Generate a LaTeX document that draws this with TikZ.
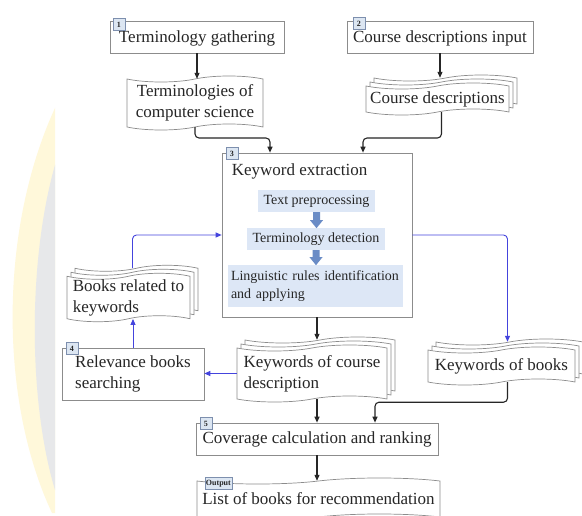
\documentclass[tikz,border=0pt]{standalone}
\usepackage{fontspec}
\setmainfont{Liberation Serif}
\usetikzlibrary{shapes.symbols,shadows,arrows.meta}

\definecolor{edge}{HTML}{8C8C8C}
\definecolor{ink}{HTML}{262626}
\definecolor{flow}{HTML}{4444DD}
\definecolor{badgefill}{HTML}{DCE6F2}
\definecolor{badgeedge}{HTML}{7D8FAE}
\definecolor{stepfill}{HTML}{DDE7F6}
\definecolor{stepdart}{HTML}{6A8CC6}
\definecolor{cream}{HTML}{FFF8DA}
\definecolor{mist}{HTML}{E7E8EA}

\tikzset{
  mainfont/.style={font=\fontsize{17}{21}\selectfont},
  procbox/.style={draw=edge, line width=0.7pt, fill=white, text=ink, mainfont, inner sep=0pt},
  tapebox/.style={tape, draw=edge, line width=0.7pt, fill=white, text=ink, mainfont,
    inner sep=0pt, tape bend top=in and out, tape bend bottom=in and out, tape bend height=6pt},
  stackbox/.style={tapebox, double copy shadow={shadow xshift=4pt, shadow yshift=4pt,
    draw=edge, fill=white, line width=0.7pt}},
  badge/.style={draw=badgeedge, fill=badgefill, text=ink, line width=0.6pt,
    font=\bfseries\fontsize{8}{8}\selectfont, inner sep=1pt, minimum size=12pt},
  stepbox/.style={fill=stepfill, text=ink, font=\fontsize{14}{18}\selectfont, inner sep=0pt},
  link/.style={draw=ink, line width=1.1pt, rounded corners=4pt, -{Triangle[length=6pt,width=5pt]}},
  bluelink/.style={draw=flow, line width=0.9pt, rounded corners=4pt, -{Triangle[length=6pt,width=5pt]}},
}

\begin{document}
\begin{tikzpicture}[x=1pt,y=-1pt]
  \clip (0,0) rectangle (582,516);
  \fill[white] (0,0) rectangle (582,516);

  % crescent backdrop on the left
  \fill[cream] (55,108) .. controls (-1,230) and (-1,400) .. (52,513) -- (55,513) -- cycle;
  \fill[mist] (55,165) .. controls (28,260) and (28,400) .. (55,490) -- cycle;

  % steps 1 and 2
  \node[procbox, minimum width=174pt, minimum height=32pt, text height=14pt, text depth=2pt] (b1) at (197,37) {Terminology gathering};
  \node[badge, anchor=west] (k1) at ([xshift=3pt,yshift=-4pt]b1.north west) {1};
  \node[procbox, minimum width=186pt, minimum height=32pt, text height=14pt, text depth=2pt] (b2) at (440,37) {Course descriptions input};
  \node[badge, anchor=west] (k2) at ([xshift=6pt,yshift=-3pt]b2.north west) {2};

  % inputs to the extraction step
  \node[tapebox, minimum width=136pt, minimum height=54pt, align=center] (d1) at (195,103)
    {Terminologies of\\computer science};
  \node[stackbox, minimum width=143pt, minimum height=32pt] (d2) at (437.5,99) {Course descriptions};

  % step 3: keyword extraction
  \node[procbox, minimum width=190pt, minimum height=164pt] (b3) at (317,235) {};
  \node[badge, anchor=west] (k3) at ([xshift=4pt,yshift=-1pt]b3.north west) {3};
  \node[mainfont, text=ink, anchor=west, inner sep=0pt] (kx) at ([xshift=10pt,yshift=-19pt]b3.north west)
    {Keyword extraction};
  \node[stepbox, minimum width=117pt, minimum height=22pt] (s1) at (316.5,201) {Text preprocessing};
  \node[stepbox, minimum width=138pt, minimum height=22pt] (s2) at (316,239) {Terminology detection};
  \node[stepbox, minimum width=175pt, minimum height=42pt, text width=169pt, align=left] (s3) at (315.5,286)
    {Linguistic rules identification\\and applying};
  \fill[stepdart] (s1.south) ++(-3.5,0) -- ++(7,0) -- ++(0,8) -- ++(3,0) -- ++(-6.5,8) -- ++(-6.5,-8) -- ++(3,0) -- cycle;
  \fill[stepdart] (s2.south) ++(-3.5,0) -- ++(7,0) -- ++(0,7) -- ++(3,0) -- ++(-6.5,8) -- ++(-6.5,-8) -- ++(3,0) -- cycle;

  % step 4 and its result
  \node[stackbox, minimum width=123pt, minimum height=45pt, align=left] (d4) at (128.5,297.5)
    {Books related to\\keywords};
  \node[procbox, minimum width=142pt, minimum height=52pt, align=left] (b4) at (133,374)
    {Relevance books\\searching};
  \node[badge, anchor=west] (k4) at ([xshift=4pt,yshift=-1pt]b4.north west) {4};

  % extracted keywords
  \node[stackbox, minimum width=150pt, minimum height=57pt, align=left] (d5) at (312,373.5)
    {Keywords of course\\description};
  \node[stackbox, minimum width=147pt, minimum height=38pt] (d6) at (501.5,366) {Keywords of books};

  % step 5 and the output
  \node[procbox, minimum width=242pt, minimum height=32pt] (b5) at (317,439) {Coverage calculation and ranking};
  \node[badge, anchor=west] (k5) at ([xshift=4pt,yshift=-1pt]b5.north west) {5};
  \node[tapebox, minimum width=243pt, minimum height=42pt] (out) at (318.5,499) {List of books for recommendation};
  \node[badge, anchor=west] (ko) at ([xshift=8pt,yshift=-3pt]out.north west) {Output};

  % connectors
  \coordinate (j1) at (0,138);
  \draw[link] (b1.south) -- (b1.south |- d1.north);
  \draw[link] (b2.south) -- ([yshift=8pt]b2.south |- d2.north);
  \draw[link] (d1.south) -- (d1.south |- j1) -| ([xshift=-47pt]b3.north);
  \draw[link] ([xshift=4pt]d2.south) -- ([xshift=4pt]d2.south |- j1) -| ([xshift=46pt]b3.north);
  \draw[link] (b3.south) -- ([yshift=8pt]b3.south |- d5.north);
  \draw[link] (b3.south |- d5.south) -- (b3.south |- b5.north);
  \draw[link] ([xshift=6pt]d6.south) -- ++(0,20) -| ([xshift=58pt]b5.north);
  \draw[link] (b5.south) -- (b5.south |- out.north);

  \draw[bluelink] (b3.east) -| ([xshift=6pt,yshift=8pt]d6.north);
  \draw[bluelink] ([xshift=4pt,yshift=8pt]d4.north) |- (b3.west);
  \draw[bluelink] (b4.north) -- (b4.north |- d4.south);
  \draw[bluelink] (d5.west) -- (d5.west -| b4.east);
\end{tikzpicture}
\end{document}
